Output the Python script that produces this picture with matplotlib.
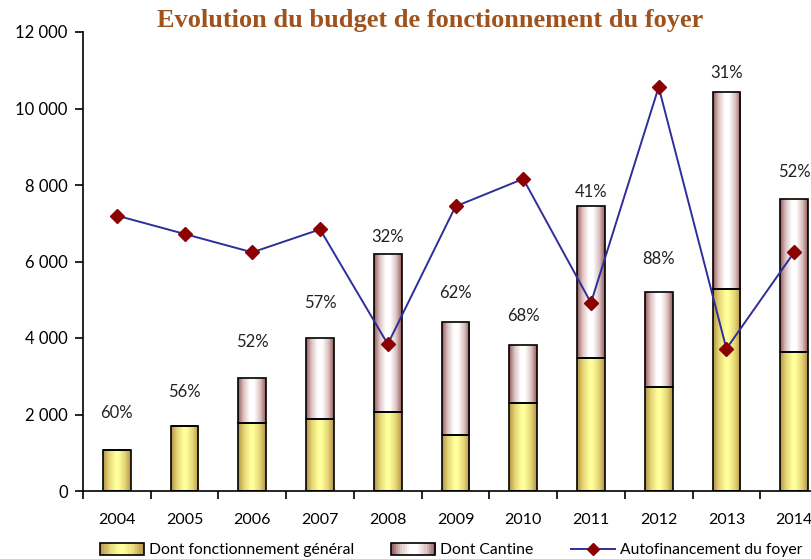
import matplotlib
matplotlib.use("Agg")
import matplotlib.pyplot as plt
import numpy as np
from matplotlib.colors import LinearSegmentedColormap
from matplotlib.patches import Rectangle
from matplotlib.lines import Line2D
from matplotlib.legend_handler import HandlerBase
from matplotlib.ticker import FuncFormatter, MultipleLocator, FixedLocator

years = ["2004", "2005", "2006", "2007", "2008", "2009", "2010", "2011", "2012", "2013", "2014"]
fonctionnement = [1070, 1690, 1770, 1880, 2060, 1460, 2300, 3480, 2720, 5270, 3640]
totals = [1070, 1690, 2960, 4000, 6200, 4420, 3820, 7450, 5200, 10420, 7630]
cantine = [t - f for t, f in zip(totals, fonctionnement)]
autofin = [0.60, 0.56, 0.52, 0.57, 0.32, 0.62, 0.68, 0.41, 0.88, 0.31, 0.52]
pct_labels = ["60%", "56%", "52%", "57%", "32%", "62%", "68%", "41%", "88%", "31%", "52%"]
label_heights = [2040, 2590, 3900, 4920, 6640, 5180, 4580, 7820, 6070, 10930, 8340]

plt.rcParams['font.family'] = ['Lato', 'DejaVu Sans']

W, H = 811, 559
fig = plt.figure(figsize=(W / 100, H / 100), dpi=100)
ax = fig.add_axes([83 / W, (H - 491) / H, 745 / W, 459 / H])

yellow_cmap = LinearSegmentedColormap.from_list(
    "y", [(0.0, "#b39245"), (0.22, "#e6d676"), (0.45, "#ffff9c"),
          (0.55, "#ffff9c"), (0.78, "#e6d676"), (1.0, "#b39245")])
pink_cmap = LinearSegmentedColormap.from_list(
    "p", [(0.0, "#955858"), (0.2, "#dcc2c2"), (0.42, "#ffffff"),
          (0.58, "#ffffff"), (0.8, "#dcc2c2"), (1.0, "#955858")])
grad = np.linspace(0, 1, 256).reshape(1, -1)

x = np.arange(len(years))
width = 0.41


def gradient_bars(xs, heights, bottoms, cmap):
    bars = ax.bar(xs, heights, width, bottom=bottoms, facecolor="none",
                  edgecolor="black", linewidth=1.2, zorder=3)
    for rect in bars:
        if rect.get_height() <= 0:
            continue
        x0, y0 = rect.get_x(), rect.get_y()
        im = ax.imshow(grad, extent=[x0, x0 + rect.get_width(), y0, y0 + rect.get_height()],
                       aspect="auto", cmap=cmap, zorder=2, interpolation="bilinear")
        im.set_clip_path(rect)
    return bars


gradient_bars(x, fonctionnement, [0] * len(x), yellow_cmap)
gradient_bars(x, cantine, fonctionnement, pink_cmap)

for xi, lab, hy in zip(x, pct_labels, label_heights):
    ax.text(xi, hy, lab, ha="center", va="center", fontsize=12, color="#222222", zorder=5)

ax.set_xlim(-0.5, len(years) - 0.5)
ax.set_ylim(0, 12000)
ax.yaxis.set_major_locator(MultipleLocator(2000))
ax.yaxis.set_major_formatter(FuncFormatter(lambda v, p: f"{int(v):,}".replace(",", " ")))
ax.set_xticks(x)
ax.set_xticklabels(years)
ax.xaxis.set_minor_locator(FixedLocator(np.arange(-0.5, len(years), 1.0)))
ax.tick_params(axis="x", which="major", length=0, pad=16, labelsize=11.5)
ax.tick_params(axis="x", which="minor", length=6, width=1.2, direction="out")
ax.tick_params(axis="y", length=6, width=1.2, direction="out", labelsize=12, pad=5)
for s in ["top", "right"]:
    ax.spines[s].set_visible(False)
for s in ["left", "bottom"]:
    ax.spines[s].set_linewidth(1.2)

ax2 = ax.twinx()
ax2.set_ylim(0, 1)
ax2.set_xlim(-0.5, len(years) - 0.5)
ax2.plot(x, autofin, color="#2e2e9a", linewidth=1.4, marker="D", markersize=7,
         markerfacecolor="#8b0000", markeredgecolor="#8b0000", zorder=6)
ax2.axis("off")

fig.text(430 / W, 1 - 20 / H, "Evolution du budget de fonctionnement du foyer",
         ha="center", va="center", fontsize=19, fontweight="bold",
         color="#a0521c", family="Liberation Serif")


class GradHandler(HandlerBase):
    def __init__(self, cmap):
        super().__init__()
        self.cmap = cmap

    def create_artists(self, legend, orig_handle, xdescent, ydescent, width, height, fontsize, trans):
        arts = []
        n = 20
        for i in range(n):
            r = Rectangle((-xdescent + width * i / n, -ydescent), width / n + 0.3, height,
                          facecolor=self.cmap((i + 0.5) / n), edgecolor="none", transform=trans)
            arts.append(r)
        arts.append(Rectangle((-xdescent, -ydescent), width, height, facecolor="none",
                              edgecolor="black", linewidth=1.2, transform=trans))
        return arts


h1 = Rectangle((0, 0), 1, 1)
h2 = Rectangle((0, 0), 1, 1)
h3 = Line2D([], [], color="#2e2e9a", linewidth=1.4, marker="D", markersize=6,
            markerfacecolor="#8b0000", markeredgecolor="#8b0000")
fig.legend([h1, h2, h3],
           ["Dont fonctionnement général", "Dont Cantine", "Autofinancement du foyer"],
           handler_map={h1: GradHandler(yellow_cmap), h2: GradHandler(pink_cmap)},
           loc="center", bbox_to_anchor=(451 / W, 9 / H), ncol=3, frameon=False,
           fontsize=11.3, handlelength=2.8, handleheight=0.8, columnspacing=2.4,
           handletextpad=0.3, borderpad=0.1)

fig.savefig("out.png", dpi=100)
